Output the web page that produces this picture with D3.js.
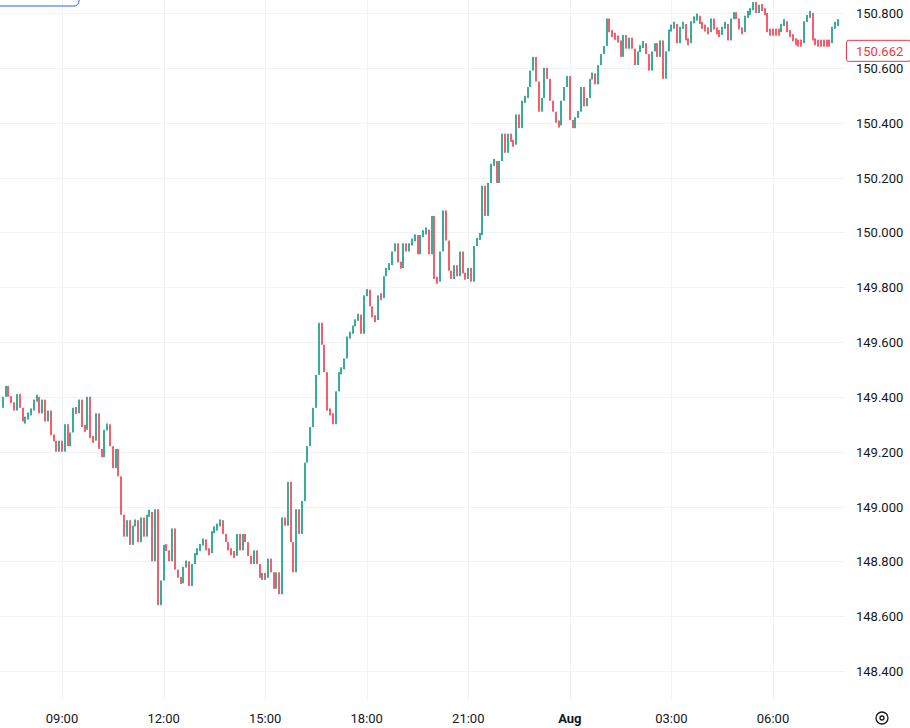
<!DOCTYPE html>
<html>
<head>
<meta charset="utf-8">
<script src="https://d3js.org/d3.v7.min.js"></script>
<style>
  body { margin: 0; background: #fff; }
  text { font-family: Roboto, "Noto Sans", sans-serif; font-size: 13px; fill: #131722; }
</style>
</head>
<body>
<script>
// 5-minute closes, open = previous close
var firstOpen = 149.36;
var closes = [
  149.40,149.44,149.40,149.38,149.35,149.41,149.36,149.31,149.32,149.34,149.35,149.39,149.40,149.34,149.39,149.31,149.35,149.26,149.24,149.20,149.24,149.20,149.30,149.22,149.27,149.36,149.34,149.39,149.29,149.28,149.40,149.25,149.24,149.34,149.21,149.18,149.28,
  149.30,149.22,149.14,149.21,149.11,148.97,148.89,148.95,148.86,148.93,148.95,148.87,148.96,148.89,148.97,148.98,148.80,148.99,148.64,148.73,148.86,148.84,148.80,148.92,148.77,148.74,148.72,148.78,148.80,148.71,148.79,148.83,148.84,148.86,148.88,148.84,
  148.83,148.91,148.92,148.93,148.95,148.90,148.87,148.84,148.83,148.82,148.90,148.84,148.90,148.87,148.82,148.79,148.84,148.79,148.74,148.75,148.74,148.81,148.76,148.70,148.76,148.68,148.96,148.93,149.09,148.87,148.76,148.99,148.90,149.02,149.16,149.22,149.29,149.36,149.48,149.67,149.59,149.49,149.35,
  149.34,149.30,149.42,149.49,149.50,149.54,149.62,149.63,149.66,149.68,149.70,149.63,149.77,149.79,149.73,149.69,149.68,149.77,149.76,149.84,149.87,149.88,149.93,149.96,149.89,149.87,149.96,149.93,149.96,149.97,149.99,149.92,149.99,150.00,150.01,149.92,150.06,149.83,149.82,149.93,150.08,149.97,149.86,149.83,149.88,149.84,149.93,149.85,149.83,149.87,149.82,149.95,149.98,149.99,
  150.17,150.06,150.18,150.25,150.26,150.18,150.26,150.36,150.29,150.36,150.33,150.32,150.43,150.38,150.48,150.49,150.53,150.59,150.64,150.55,150.44,150.49,150.60,150.56,150.48,150.44,150.40,150.39,150.48,150.53,150.57,150.41,150.38,150.42,150.44,150.53,150.46,150.49,150.56,150.58,150.54,150.61,150.65,150.68,
  150.78,150.73,150.72,150.71,150.70,150.64,150.72,150.67,150.71,150.67,150.61,150.66,150.68,150.69,150.65,150.59,150.66,150.69,150.64,150.70,150.56,150.66,150.74,150.75,150.76,150.69,150.75,150.76,150.70,150.69,150.77,150.78,150.79,150.76,150.75,150.74,150.73,150.78,150.74,150.73,150.72,150.75,150.76,150.70,150.78,150.80,150.78,150.74,150.73,150.79,150.80,150.81,150.84,150.80,150.83,150.81,150.80,
  150.73,150.73,150.73,150.73,150.73,150.76,150.77,150.73,150.72,150.70,150.69,150.69,150.69,150.77,150.79,150.80,150.70,150.69,150.69,150.69,150.69,150.69,150.69,150.75,150.76,150.77
];
var lastPrice = 150.662;
var priceTicks = [148.4,148.6,148.8,149.0,149.2,149.4,149.6,149.8,150.0,150.2,150.4,150.6,150.8];
var timeTicks = ["2023-07-31T09:00","2023-07-31T12:00","2023-07-31T15:00","2023-07-31T18:00","2023-07-31T21:00","2023-08-01T00:00","2023-08-01T03:00","2023-08-01T06:00"];
var timeLabels = ["09:00","12:00","15:00","18:00","21:00","Aug","03:00","06:00"];
var startTime = "2023-07-31T07:15";

var W = 910, H = 728, plotW = 845;
var svg = d3.select("body").append("svg").attr("width", W).attr("height", H);

var parse = d3.timeParse("%Y-%m-%dT%H:%M");
var t0 = parse(startTime);
var bars = closes.map(function(c, i) {
  return { t: new Date(t0.getTime() + i * 300000), o: i === 0 ? firstOpen : closes[i - 1], c: c };
});

var x = d3.scaleTime()
  .domain([parse("2023-07-31T09:00"), parse("2023-08-01T06:00")])
  .range([62, 773]);
var y = d3.scaleLinear().domain([148.4, 150.8]).range([671, 13]);

// grid
svg.append("g").selectAll("line").data(priceTicks).enter().append("line")
  .attr("x1", 0).attr("x2", plotW).attr("y1", function(d){ return Math.round(y(d)) + 0.5; })
  .attr("y2", function(d){ return Math.round(y(d)) + 0.5; })
  .attr("stroke", "#f0f3fa");
svg.append("g").selectAll("line").data(timeTicks).enter().append("line")
  .attr("y1", 0).attr("y2", 700).attr("x1", function(d){ return Math.round(x(parse(d))) + 0.5; })
  .attr("x2", function(d){ return Math.round(x(parse(d))) + 0.5; })
  .attr("stroke", "#f0f3fa");

// bars (small ranges are padded so the bar reads like a high-low line)
var minH = 7;
svg.append("g").selectAll("rect").data(bars).enter().append("rect")
  .attr("x", function(d){ return Math.round(x(d.t)) - 1; })
  .attr("width", 2)
  .attr("y", function(d){
    var top = y(Math.max(d.o, d.c)), h = Math.abs(y(d.o) - y(d.c));
    return h < minH ? (top + h / 2 - minH / 2) : top;
  })
  .attr("height", function(d){ return Math.max(minH, Math.abs(y(d.o) - y(d.c))); })
  .attr("fill", function(d){ return d.c > d.o ? "#089981" : "#f23645"; })
  .attr("opacity", 0.8);

// right axis
svg.append("g").selectAll("text").data(priceTicks).enter().append("text")
  .attr("x", 856).attr("y", function(d){ return y(d) + 5; })
  .text(function(d){ return d.toFixed(3); });

// bottom axis
svg.append("g").selectAll("text").data(timeTicks).enter().append("text")
  .attr("x", function(d){ return x(parse(d)); }).attr("y", 723)
  .attr("text-anchor", "middle")
  .style("font-weight", function(d, i){ return timeLabels[i] === "Aug" ? "bold" : null; })
  .text(function(d, i){ return timeLabels[i]; });

// last price label
var ly = y(lastPrice);
svg.append("rect").attr("x", 846.5).attr("y", ly - 10.5).attr("width", 64).attr("height", 21)
  .attr("rx", 2).attr("fill", "#fff").attr("stroke", "#f23645");
svg.append("text").attr("x", 856).attr("y", ly + 5).style("fill", "#f23645").text(lastPrice.toFixed(3));

// legend box remnant at top-left
svg.append("rect").attr("x", -10).attr("y", -20).attr("width", 89).attr("height", 26)
  .attr("rx", 5).attr("fill", "none").attr("stroke", "#2962ff").attr("stroke-width", 1);

// settings icon
svg.append("circle").attr("cx", 882).attr("cy", 718).attr("r", 6).attr("fill", "none")
  .attr("stroke", "#131722").attr("stroke-width", 1.3);
svg.append("circle").attr("cx", 882).attr("cy", 718).attr("r", 2).attr("fill", "none")
  .attr("stroke", "#131722").attr("stroke-width", 1.3);
</script>
</body>
</html>
